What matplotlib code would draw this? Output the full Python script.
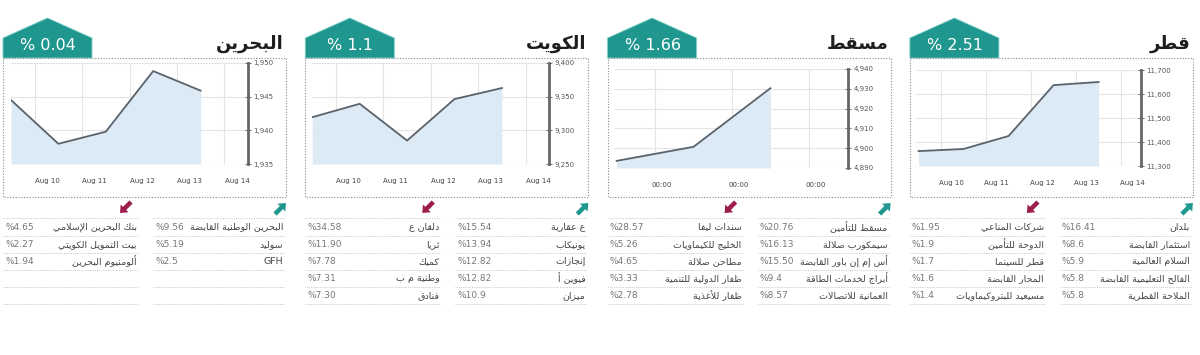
import numpy as np
import matplotlib.pyplot as plt
from matplotlib.patches import Polygon, Rectangle, FancyArrow
from matplotlib.ticker import FuncFormatter

# ---------------- data ----------------
markets = ["البحرين", "الكويت", "مسقط", "قطر"]
changes = ["% 0.04", "% 1.1", "% 1.66", "% 2.51"]

bahrain_values = [1944.5, 1938.0, 1939.8, 1948.8, 1945.9]
kuwait_values = [9319.5, 9339.4, 9284.8, 9346.4, 9362.8]
muscat_values = [4893.6, 4900.7, 4930.3]
qatar_values = [11362, 11371, 11425, 11637, 11650]

bahrain_ticks = [1935, 1940, 1945, 1950]
kuwait_ticks = [9250, 9300, 9350, 9400]
muscat_ticks = [4890, 4900, 4910, 4920, 4930, 4940]
qatar_ticks = [11300, 11400, 11500, 11600, 11700]

day_labels = ["Aug 10", "Aug 11", "Aug 12", "Aug 13", "Aug 14"]
muscat_labels = ["00:00", "00:00", "00:00"]

bahrain_up = [("البحرين الوطنية القابضة", "%9.56"), ("سوليد", "%5.19"), ("GFH", "%2.5")]
bahrain_down = [("بنك البحرين الإسلامي", "%4.65"), ("بيت التمويل الكويتي", "%2.27"),
                ("ألومنيوم البحرين", "%1.94")]

kuwait_up = [("ع عقارية", "%15.54"), ("يونيكاب", "%13.94"), ("إنجازات", "%12.82"),
             ("فيوين أ", "%12.82"), ("ميزان", "%10.9")]
kuwait_down = [("دلقان ع", "%34.58"), ("ثريا", "%11.90"), ("كميك", "%7.78"),
               ("وطنية م ب", "%7.31"), ("فنادق", "%7.30")]

muscat_up = [("مسقط للتأمين", "%20.76"), ("سيمكورب صلالة", "%16.13"),
             ("أس إم إن باور القابضة", "%15.50"), ("أبراج لخدمات الطاقة", "%9.4"),
             ("العمانية للاتصالات", "%8.57")]
muscat_down = [("سندات ليفا", "%28.57"), ("الخليج للكيماويات", "%5.26"),
               ("مطاحن صلالة", "%4.65"), ("ظفار الدولية للتنمية", "%3.33"),
               ("ظفار للأغذية", "%2.78")]

qatar_up = [("بلدان", "%16.41"), ("استثمار القابضة", "%8.6"), ("السلام العالمية", "%5.9"),
            ("الفالح التعليمية القابضة", "%5.8"), ("الملاحة القطرية", "%5.8")]
qatar_down = [("شركات المناعي", "%1.95"), ("الدوحة للتأمين", "%1.9"), ("قطر للسينما", "%1.7"),
              ("المحار القابضة", "%1.6"), ("مسيعيد للبتروكيماويات", "%1.4")]

# ---------------- arabic shaping (no raqm in matplotlib) ----------------
RIGHT = {"آ": 0xFE81, "أ": 0xFE83, "ؤ": 0xFE85, "إ": 0xFE87, "ا": 0xFE8D, "ة": 0xFE93,
         "د": 0xFEA9, "ذ": 0xFEAB, "ر": 0xFEAD, "ز": 0xFEAF, "و": 0xFEED, "ى": 0xFEEF}
DUAL = {"ئ": 0xFE89, "ب": 0xFE8F, "ت": 0xFE95, "ث": 0xFE99, "ج": 0xFE9D, "ح": 0xFEA1,
        "خ": 0xFEA5, "س": 0xFEB1, "ش": 0xFEB5, "ص": 0xFEB9, "ض": 0xFEBD, "ط": 0xFEC1,
        "ظ": 0xFEC5, "ع": 0xFEC9, "غ": 0xFECD, "ف": 0xFED1, "ق": 0xFED5, "ك": 0xFED9,
        "ل": 0xFEDD, "م": 0xFEE1, "ن": 0xFEE5, "ه": 0xFEE9, "ي": 0xFEF1}
LAMALEF = {"آ": 0xFEF5, "أ": 0xFEF7, "إ": 0xFEF9, "ا": 0xFEFB}


def shape(text):
    if not any("\u0600" <= c <= "\u06ff" for c in text):
        return text
    units = []
    i = 0
    while i < len(text):
        c = text[i]
        if c == "ل" and i + 1 < len(text) and text[i + 1] in LAMALEF:
            units.append(("LA", text[i + 1]))
            i += 2
        else:
            units.append(("C", c))
            i += 1

    def join_next(u):
        return u[0] == "C" and u[1] in DUAL

    def join_prev(u):
        return u[0] == "LA" or u[1] in DUAL or u[1] in RIGHT

    out = []
    for k, u in enumerate(units):
        prev = k > 0 and join_next(units[k - 1]) and join_prev(u)
        nxt = k + 1 < len(units) and join_next(u) and join_prev(units[k + 1])
        if u[0] == "LA":
            out.append(chr(LAMALEF[u[1]] + (1 if prev else 0)))
        elif u[1] in DUAL:
            form = 3 if (prev and nxt) else 1 if prev else 2 if nxt else 0
            out.append(chr(DUAL[u[1]] + form))
        elif u[1] in RIGHT:
            out.append(chr(RIGHT[u[1]] + (1 if prev else 0)))
        else:
            out.append(u[1])
    return "".join(reversed(out))


# ---------------- figure ----------------
W, H = 1200, 355
fig = plt.figure(figsize=(W / 100, H / 100), dpi=100)
bg = fig.add_axes([0, 0, 1, 1])
bg.set_xlim(0, W)
bg.set_ylim(H, 0)
bg.axis("off")

TEAL = "#1f968e"
MAROON = "#9c1c4c"

panels = [
    dict(values=bahrain_values, ticks=bahrain_ticks, labels=day_labels, up=bahrain_up,
         down=bahrain_down, box=(8, 245, 63, 164), xlim=(-0.5, 4.5), off=0.27),
    dict(values=kuwait_values, ticks=kuwait_ticks, labels=day_labels, up=kuwait_up,
         down=kuwait_down, box=(7, 244, 63, 164), xlim=(-0.5, 4.5), off=0.26),
    dict(values=muscat_values, ticks=muscat_ticks, labels=muscat_labels, up=muscat_up,
         down=muscat_down, box=(7.5, 240.5, 69, 168), xlim=(-0.52, 2.51), off=0.09),
    dict(values=qatar_values, ticks=qatar_ticks, labels=day_labels, up=qatar_up,
         down=qatar_down, box=(6, 231, 70, 166), xlim=(-0.56, 4.44), off=0.24),
]

for i, p in enumerate(panels):
    bx = 3 + 302.3 * i

    # badge
    badge = Polygon([(bx, 58), (bx, 38), (bx + 44.5, 18), (bx + 89, 38), (bx + 89, 58)],
                    closed=True, facecolor=TEAL, edgecolor="#7fd0c8", lw=0.6)
    bg.add_patch(badge)
    bg.text(bx + 45, 45, changes[i], color="white", fontsize=11.5, ha="center", va="center")

    # title
    bg.text(bx + 281, 44, shape(markets[i]), fontsize=13, fontweight="bold",
            color="#1e1e1e", ha="right", va="center")

    # dotted box
    bg.add_patch(Rectangle((bx, 58), 283, 139, fill=False, edgecolor="#8a8a8a",
                           lw=0.8, linestyle=(0, (1, 1.5))))

    # chart
    l, r, t, b = p["box"]
    ax = fig.add_axes([(bx + l) / W, 1 - b / H, (r - l) / W, (b - t) / H])
    vals = np.array(p["values"])
    xs = np.arange(len(vals)) - 0.5
    lo, hi = p["ticks"][0], p["ticks"][-1]
    ax.fill_between(xs, vals, lo, color="#dceaf6", lw=0, zorder=1)
    ax.plot(xs, vals, color="#59626b", lw=1.3, zorder=3)
    ax.set_xlim(*p["xlim"])
    ax.set_ylim(lo, hi)

    n = len(p["labels"])
    ax.set_xticks(np.arange(n), minor=True)
    ax.set_xticks(np.arange(n) + p["off"])
    ax.set_xticklabels(p["labels"])
    ax.set_yticks(p["ticks"])
    ax.yaxis.set_major_formatter(FuncFormatter(lambda v, _: f"{v:,.0f}"))
    ax.yaxis.tick_right()
    ax.xaxis.grid(True, which="minor", color="#e4e4e4", lw=0.8, zorder=0)
    ax.yaxis.grid(True, which="major", color="#e4e4e4", lw=0.8, zorder=0)
    ax.set_axisbelow(True)
    ax.tick_params(axis="x", which="both", length=0, labelsize=5, pad=10,
                   labelcolor="#444444")
    ax.tick_params(axis="y", length=4, width=0.8, color="#777777", direction="inout",
                   labelsize=5, pad=2, labelcolor="#555555")
    for side in ("top", "left", "bottom"):
        ax.spines[side].set_visible(False)
    ax.spines["right"].set_color("#666666")
    ax.spines["right"].set_linewidth(2)

    # arrows
    bg.add_patch(FancyArrow(bx + 272, 214, 11, -11, width=4.5, head_width=11,
                            head_length=6.5, color=TEAL, lw=0, length_includes_head=True))
    bg.add_patch(FancyArrow(bx + 128, 202, -11, 11, width=4.5, head_width=11,
                            head_length=6.5, color=MAROON, lw=0, length_includes_head=True))

    # table
    for k in range(6):
        yy = 218.3 + 17.2 * k
        bg.plot([bx + 150, bx + 281], [yy, yy], color="#bdbdbd", lw=0.6, ls=(0, (1, 1.2)))
        bg.plot([bx, bx + 135], [yy, yy], color="#bdbdbd", lw=0.6, ls=(0, (1, 1.2)))
    for k, (name, val) in enumerate(p["up"]):
        yy = 227 + 17.2 * k
        bg.text(bx + 280, yy, shape(name), fontsize=6.8, color="#444444",
                ha="right", va="center")
        bg.text(bx + 152, yy, val, fontsize=6.5, color="#777777", ha="left", va="center")
    for k, (name, val) in enumerate(p["down"]):
        yy = 227 + 17.2 * k
        bg.text(bx + 134, yy, shape(name), fontsize=6.8, color="#444444",
                ha="right", va="center")
        bg.text(bx + 2, yy, val, fontsize=6.5, color="#777777", ha="left", va="center")

fig.savefig("out.png", dpi=100)
